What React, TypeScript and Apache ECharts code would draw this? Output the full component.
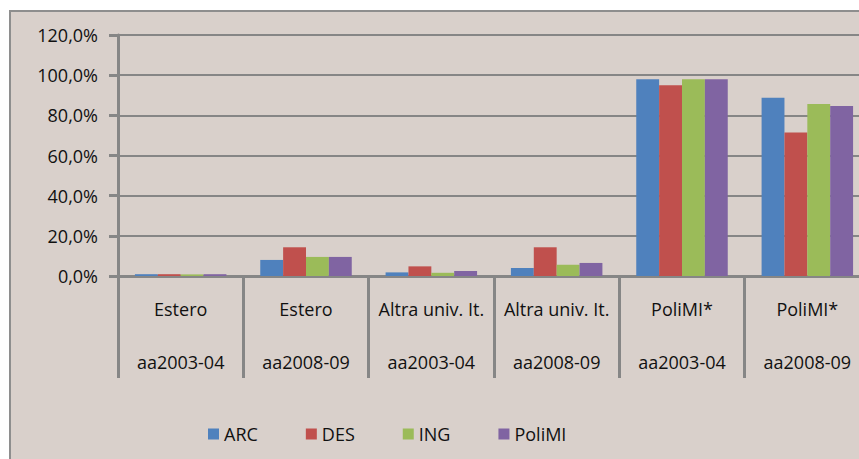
import React, { useEffect, useRef } from "react";
import * as echarts from "echarts";

const groups = ["Estero", "Estero", "Altra univ. It.", "Altra univ. It.", "PoliMI*", "PoliMI*"];
const years = ["aa2003-04", "aa2008-09", "aa2003-04", "aa2008-09", "aa2003-04", "aa2008-09"];
const seriesNames = ["ARC", "DES", "ING", "PoliMI"];
const arcValues = [0.9, 8.0, 1.8, 4.0, 98.0, 88.7];
const desValues = [0.9, 14.3, 4.8, 14.3, 95.0, 71.5];
const ingValues = [0.8, 9.5, 1.6, 5.6, 98.0, 85.6];
const polimiValues = [0.9, 9.5, 2.5, 6.5, 98.0, 84.7];
const colors = ["#4f81bd", "#c0504d", "#9bbb59", "#8064a2"];
const yTicks = [0, 20, 40, 60, 80, 100, 120];

const FONT = "'Open Sans', sans-serif";

export default function App() {
  const ref = useRef<HTMLDivElement>(null);
  useEffect(() => {
    if (!ref.current) return;
    const chart = echarts.init(ref.current, undefined, { renderer: "svg" });
    const categories = groups.map((g, i) => `${g}\n\n${years[i]}`);
    const allValues = [arcValues, desValues, ingValues, polimiValues];
    chart.setOption({
      animation: false,
      backgroundColor: "#ffffff",
      textStyle: { fontFamily: FONT },
      graphic: [
        {
          type: "rect",
          z: -10,
          shape: { x: 10, y: 11, width: 900, height: 500 },
          style: { fill: "#d9d0cb", stroke: "#8e8e8e", lineWidth: 2 },
        },
      ],
      grid: { left: 118, top: 35, right: 0, height: 241, containLabel: false },
      legend: {
        left: 208,
        top: 425,
        padding: 0,
        itemWidth: 11,
        itemHeight: 11,
        itemGap: 48,
        icon: "rect",
        textStyle: { fontFamily: FONT, fontSize: 18, color: "#111111" },
        data: seriesNames,
      },
      xAxis: {
        type: "category",
        data: categories,
        axisLine: { lineStyle: { color: "#868686", width: 3 } },
        axisTick: { show: true, interval: 0, length: 102, lineStyle: { color: "#868686", width: 3 } },
        axisLabel: {
          interval: 0,
          margin: 20,
          lineHeight: 26.5,
          fontFamily: FONT,
          fontSize: 18,
          color: "#111111",
        },
      },
      yAxis: {
        type: "value",
        min: yTicks[0],
        max: yTicks[yTicks.length - 1],
        interval: 20,
        axisLine: { show: true, lineStyle: { color: "#868686", width: 3 } },
        axisTick: { show: true, length: 9, lineStyle: { color: "#868686", width: 3 } },
        splitLine: { lineStyle: { color: "#868686", width: 2 } },
        axisLabel: {
          margin: 20,
          fontFamily: FONT,
          fontSize: 18,
          color: "#111111",
          formatter: (v: number) => v.toFixed(1).replace(".", ",") + "%",
        },
      },
      series: seriesNames.map((name, i) => ({
        name,
        type: "bar",
        data: allValues[i],
        barGap: "0%",
        barCategoryGap: "27%",
        itemStyle: { color: colors[i] },
      })),
    });
    return () => chart.dispose();
  }, []);
  return (
    <div style={{ position: "absolute", left: 0, top: 0, width: 859, height: 459, overflow: "hidden" }}>
      <div ref={ref} style={{ width: 870, height: 459 }} />
    </div>
  );
}
